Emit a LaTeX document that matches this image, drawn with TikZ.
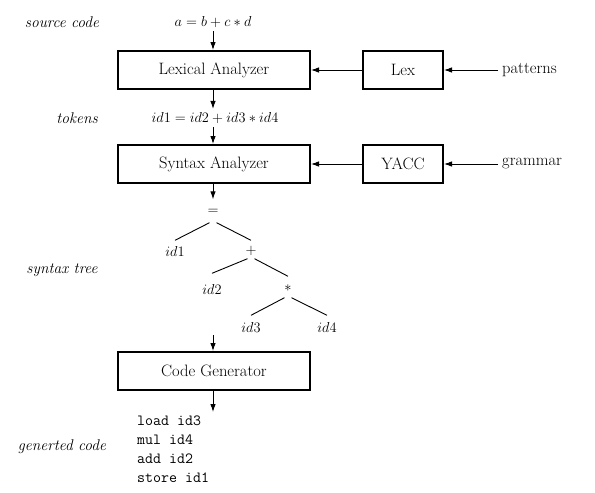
\documentclass[tikz,border=0pt]{standalone}
\usetikzlibrary{arrows.meta,positioning,calc}
\tikzset{
  stage/.style={draw,line width=2pt,minimum width=192pt,minimum height=38pt,
    inner sep=0pt,font=\fontsize{16.5}{19}\selectfont},
  tool/.style={stage,minimum width=80pt},
  side/.style={font=\fontsize{15.5}{18}\selectfont\itshape},
  plain/.style={font=\fontsize{16.5}{19}\selectfont},
  formula/.style={font=\fontsize{15.5}{18}\selectfont},
  leaf/.style={font=\fontsize{15.5}{18}\selectfont,inner sep=0pt,minimum height=21pt},
  flow/.style={-{Latex[length=8pt,width=5.5pt]},line width=0.9pt},
  branch/.style={line width=0.9pt}
}
\begin{document}
\begin{tikzpicture}[x=1pt,y=-1pt]
  \useasboundingbox (0,0) rectangle (595,493);
  % labels on the left
  \node [side] (lsource) at (62,22) {source code};
  \node [side] (ltokens) at (77,118) {tokens};
  \node [side] (ltree) at (62,270) {syntax tree};
  \node [side] (lcode) at (62,447) {generted code};
  % stages
  \node [formula] (source) at (213,22) {$a=b+c*d$};
  \node [stage] (lexical) at (214,70) {Lexical Analyzer};
  \node [tool] (lex) at (403,70) {Lex};
  \node [plain,anchor=west,inner sep=4pt] (patterns) at (498,70) {patterns};
  \node [formula] (tokens) at (215,118) {$id1=id2+id3*id4$};
  \node [stage] (syntax) at (214,164) {Syntax Analyzer};
  \node [tool] (yacc) at (403,164) {YACC};
  \node [plain,anchor=west,inner sep=4pt] (grammar) at (498,164) {grammar};
  \node [stage] (codegen) at (214,371) {Code Generator};
  % syntax tree
  \node [leaf] (eq) at (213,212) {$=$};
  \node [leaf] (idone) at (175,251) {$id1$};
  \node [leaf] (plus) at (251,251) {$+$};
  \node [leaf] (idtwo) at (212,289) {$id2$};
  \node [leaf] (times) at (288,288) {$*$};
  \node [leaf] (idthree) at (251,327) {$id3$};
  \node [leaf] (idfour) at (327,327) {$id4$};
  \coordinate (treeout) at (213,335);
  % generated code
  \node [font=\fontsize{15.5}{19}\selectfont\ttfamily,align=left,anchor=north west,inner sep=0pt]
    (code) at (137,416) {load id3\\mul id4\\add id2\\store id1};
  % arrows
  \draw [flow] (source) -- (source|-lexical.north);
  \draw [flow] (lex) -- (lexical);
  \draw [flow] (patterns) -- (lex);
  \draw [flow] (lexical.south-|source) -- (source|-tokens.north);
  \draw [flow] (source|-tokens.south) -- (source|-syntax.north);
  \draw [flow] (yacc) -- (syntax);
  \draw [flow] (grammar) -- (yacc);
  \draw [flow] (syntax.south-|source) -- ($(eq.north)+(0,-2)$);
  \draw [flow] (treeout) -- (treeout|-codegen.north);
  \draw [flow] (codegen.south-|source) -- ($(source|-code.north)+(0,-4)$);
  % tree branches
  \draw [branch] ($(eq.south)+(-3.5,0)$) -- (idone.north);
  \draw [branch] ($(eq.south)+(3.5,0)$) -- (plus.north);
  \draw [branch] ($(plus.south)+(-3.5,-3)$) -- ($(idtwo.north)+(0,-5)$);
  \draw [branch] ($(plus.south)+(3.5,-3)$) -- ($(times.north)+(0,-1)$);
  \draw [branch] ($(times.south)+(-3.5,-1)$) -- ($(idthree.north)+(0,-1)$);
  \draw [branch] ($(times.south)+(3.5,-1)$) -- ($(idfour.north)+(0,-1)$);
\end{tikzpicture}
\end{document}
